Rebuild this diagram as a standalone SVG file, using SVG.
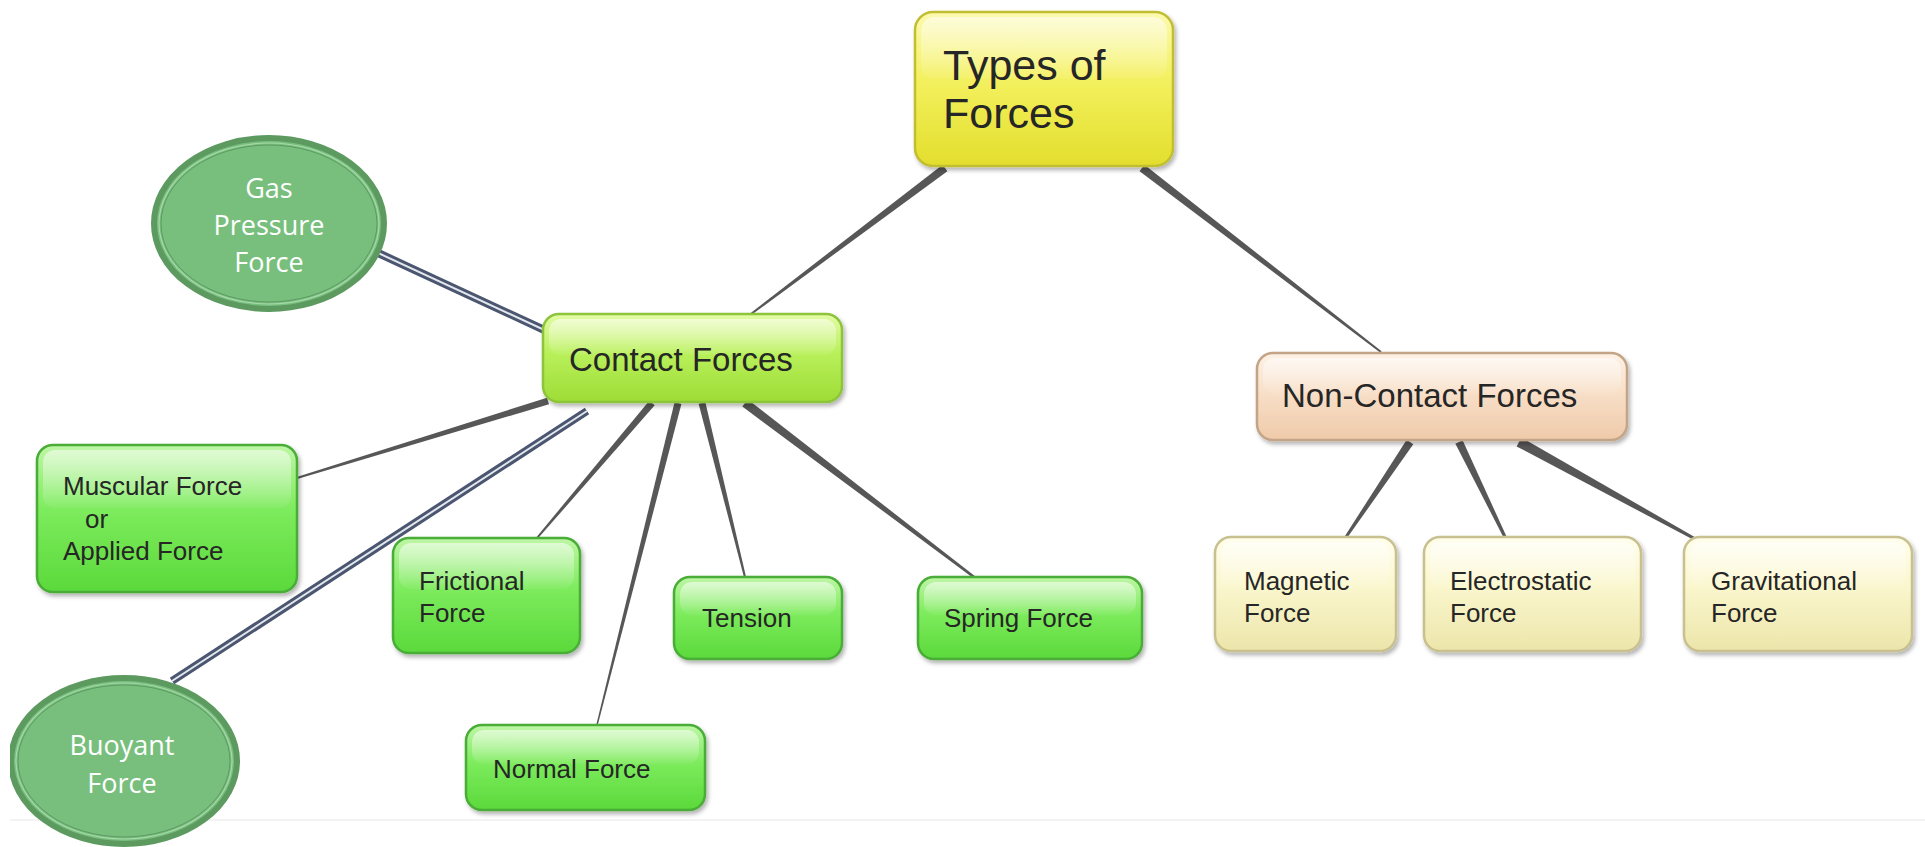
<svg xmlns="http://www.w3.org/2000/svg" width="1925" height="847" viewBox="0 0 1925 847">
<defs>
<linearGradient id="gGreen" x1="0" y1="0" x2="0" y2="1"><stop offset="0" stop-color="#bff6a6"/><stop offset="0.45" stop-color="#7ceb5c"/><stop offset="1" stop-color="#5bd93b"/></linearGradient>
<linearGradient id="gLime" x1="0" y1="0" x2="0" y2="1"><stop offset="0" stop-color="#e4fba6"/><stop offset="0.45" stop-color="#b8f05a"/><stop offset="1" stop-color="#9edc36"/></linearGradient>
<linearGradient id="gYellow" x1="0" y1="0" x2="0" y2="1"><stop offset="0" stop-color="#fcfab0"/><stop offset="0.45" stop-color="#f3f05e"/><stop offset="1" stop-color="#e3de2c"/></linearGradient>
<linearGradient id="gPeach" x1="0" y1="0" x2="0" y2="1"><stop offset="0" stop-color="#fdf2e6"/><stop offset="0.45" stop-color="#f8dfc8"/><stop offset="1" stop-color="#efcaaa"/></linearGradient>
<linearGradient id="gCream" x1="0" y1="0" x2="0" y2="1"><stop offset="0" stop-color="#fffeec"/><stop offset="0.45" stop-color="#faf6cc"/><stop offset="1" stop-color="#ece5aa"/></linearGradient>
<linearGradient id="gGloss" x1="0" y1="0" x2="0" y2="1"><stop offset="0" stop-color="#ffffff" stop-opacity="0.55"/><stop offset="1" stop-color="#ffffff" stop-opacity="0.05"/></linearGradient>
<filter id="shadow" x="-10%" y="-10%" width="125%" height="135%"><feDropShadow dx="2" dy="3" stdDeviation="2" flood-color="#000" flood-opacity="0.3"/></filter>
<clipPath id="clipLeft"><rect x="10" y="0" width="1915" height="847"/></clipPath>
<style>
.box{stroke-width:2.5;filter:url(#shadow)}
.green{fill:url(#gGreen);stroke:#48ad37}
.lime{fill:url(#gLime);stroke:#8cc43a}
.yellow{fill:url(#gYellow);stroke:#c2be32}
.peach{fill:url(#gPeach);stroke:#c4a487}
.cream{fill:url(#gCream);stroke:#c8c08f}
.gloss{fill:url(#gGloss)}
.t{font-family:"Liberation Sans",Arial,sans-serif;fill:#262626}
.t26{font-size:26px}
.t33{font-size:33px}
.t43{font-size:43px}
.ct{font-family:"Open Sans","Noto Sans",sans-serif;font-size:27px;fill:#ffffff;text-anchor:middle}
.circ{fill:#78bf7e;stroke:#5c9a60;stroke-width:6}
.circIn{fill:none;stroke:#a6d8a9;stroke-width:1.2}
.circIn2{fill:none;stroke:#5c9a60;stroke-width:1}
.conn{fill:#575757}
.dbl{stroke:#4b5670;stroke-width:8;stroke-linecap:butt}
.dblIn{stroke:#e4e7ee;stroke-width:2}
</style>
</defs>
<rect x="0" y="0" width="1925" height="847" fill="#ffffff"/>
<line x1="10" y1="820" x2="1925" y2="820" stroke="#efefef" stroke-width="1.5"/>

<g id="connectors">
<polygon class="conn" points="947.4,171.2 751.6,314.8 750.4,313.2 942.6,164.8"/>
<polygon class="conn" points="1144.4,164.8 1381.6,351.2 1380.4,352.8 1139.6,171.2"/>
<polygon class="conn" points="547.0,397.7 296.7,477.0 297.3,479.0 549.0,404.3"/>
<polygon class="conn" points="649.3,400.7 536.2,537.4 537.8,538.6 654.7,405.3"/>
<polygon class="conn" points="674.6,402.1 596.3,724.8 597.7,725.2 681.4,403.9"/>
<polygon class="conn" points="705.4,402.2 746.0,576.8 744.0,577.2 698.6,403.8"/>
<polygon class="conn" points="747.7,399.4 974.8,576.0 973.2,578.0 742.3,406.6"/>
<polygon class="conn" points="1406.7,439.8 1344.8,536.2 1347.2,537.8 1413.3,444.2"/>
<polygon class="conn" points="1462.6,440.3 1506.4,536.3 1503.7,537.7 1455.4,443.7"/>
<polygon class="conn" points="1521.4,437.6 1697.7,538.7 1696.3,541.3 1516.6,446.4"/>
<line class="dbl" x1="376" y1="252" x2="553" y2="334"/>
<line class="dblIn" x1="376" y1="252" x2="553" y2="334"/>
<line class="dbl" x1="172" y1="681" x2="587" y2="411"/>
<line class="dblIn" x1="172" y1="681" x2="587" y2="411"/>
</g>

<g id="types-of-forces">
<rect class="box yellow" x="915" y="12" width="258" height="154" rx="18"/>
<rect class="gloss" x="921" y="17" width="246" height="62" rx="14"/>
<text class="t t43" x="943" y="80">Types of</text>
<text class="t t43" x="943" y="128">Forces</text>
</g>

<g id="contact-forces">
<rect class="box lime" x="543" y="314" width="299" height="88" rx="16"/>
<rect class="gloss" x="549" y="319" width="287" height="36" rx="12"/>
<text class="t t33" x="569" y="371">Contact Forces</text>
</g>

<g id="non-contact-forces">
<rect class="box peach" x="1257" y="353" width="370" height="87" rx="16"/>
<rect class="gloss" x="1263" y="358" width="358" height="36" rx="12"/>
<text class="t t33" x="1282" y="407">Non-Contact Forces</text>
</g>

<g id="gas-pressure-force">
<ellipse class="circ" cx="269" cy="223.5" rx="115" ry="85.5"/>
<ellipse class="circIn" cx="269" cy="223.5" rx="110" ry="80.5"/>
<ellipse class="circIn2" cx="269" cy="223.5" rx="108" ry="78.5"/>
<text class="ct" x="269" y="198">Gas</text>
<text class="ct" x="269" y="235">Pressure</text>
<text class="ct" x="269" y="272">Force</text>
</g>

<g id="buoyant-force" clip-path="url(#clipLeft)">
<ellipse class="circ" cx="124" cy="761" rx="113" ry="83"/>
<ellipse class="circIn" cx="124" cy="761" rx="108" ry="78"/>
<ellipse class="circIn2" cx="124" cy="761" rx="106" ry="76"/>
<text class="ct" x="122" y="755">Buoyant</text>
<text class="ct" x="122" y="793">Force</text>
</g>

<g id="muscular-force">
<rect class="box green" x="37" y="445" width="260" height="147" rx="16"/>
<rect class="gloss" x="43" y="450" width="248" height="58" rx="12"/>
<text class="t t26" x="63" y="495">Muscular Force</text>
<text class="t t26" x="85" y="528">or</text>
<text class="t t26" x="63" y="560">Applied Force</text>
</g>

<g id="frictional-force">
<rect class="box green" x="393" y="538" width="187" height="115" rx="16"/>
<rect class="gloss" x="399" y="543" width="175" height="46" rx="12"/>
<text class="t t26" x="419" y="590">Frictional</text>
<text class="t t26" x="419" y="622">Force</text>
</g>

<g id="normal-force">
<rect class="box green" x="466" y="725" width="239" height="85" rx="16"/>
<rect class="gloss" x="472" y="730" width="227" height="34" rx="12"/>
<text class="t t26" x="493" y="778">Normal Force</text>
</g>

<g id="tension">
<rect class="box green" x="674" y="577" width="168" height="82" rx="16"/>
<rect class="gloss" x="680" y="582" width="156" height="33" rx="12"/>
<text class="t t26" x="702" y="627">Tension</text>
</g>

<g id="spring-force">
<rect class="box green" x="918" y="577" width="224" height="82" rx="16"/>
<rect class="gloss" x="924" y="582" width="212" height="33" rx="12"/>
<text class="t t26" x="944" y="627">Spring Force</text>
</g>

<g id="magnetic-force">
<rect class="box cream" x="1215" y="537" width="181" height="114" rx="16"/>
<rect class="gloss" x="1221" y="542" width="169" height="46" rx="12"/>
<text class="t t26" x="1244" y="590">Magnetic</text>
<text class="t t26" x="1244" y="622">Force</text>
</g>

<g id="electrostatic-force">
<rect class="box cream" x="1424" y="537" width="217" height="114" rx="16"/>
<rect class="gloss" x="1430" y="542" width="205" height="46" rx="12"/>
<text class="t t26" x="1450" y="590">Electrostatic</text>
<text class="t t26" x="1450" y="622">Force</text>
</g>

<g id="gravitational-force">
<rect class="box cream" x="1684" y="537" width="228" height="114" rx="16"/>
<rect class="gloss" x="1690" y="542" width="216" height="46" rx="12"/>
<text class="t t26" x="1711" y="590">Gravitational</text>
<text class="t t26" x="1711" y="622">Force</text>
</g>
</svg>
